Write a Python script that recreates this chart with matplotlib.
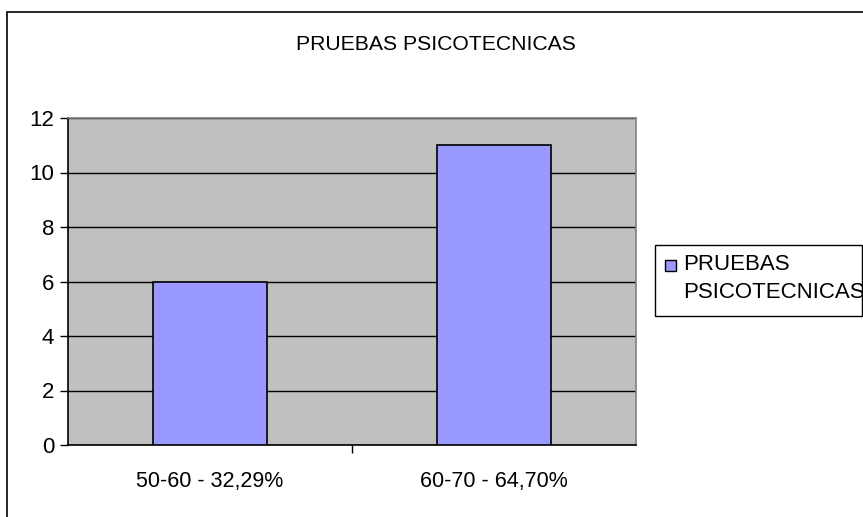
import numpy as np
import matplotlib.pyplot as plt
from matplotlib.patches import Rectangle

plt.rcParams['font.family'] = ['Liberation Sans', 'DejaVu Sans']

categorias = ['50-60 - 32,29%', '60-70 - 64,70%']
valores = [6, 11]
serie = 'PRUEBAS PSICOTECNICAS'
leyenda = ['PRUEBAS', 'PSICOTECNICAS']
yticks = [0, 2, 4, 6, 8, 10, 12]

W, H = 863, 517
fig = plt.figure(figsize=(W / 100, H / 100), dpi=100)


def px(x, y):
    # pixeles (origen arriba a la izquierda) -> fraccion de figura
    return x / W, 1 - y / H


# marco exterior del grafico
fig.patches.append(Rectangle((7 / W, -0.1), 2.0, (H - 12) / H + 0.1,
                             transform=fig.transFigure, fill=False,
                             edgecolor='black', linewidth=1.2))

ax = fig.add_axes([68 / W, (H - 445) / H, (636 - 68) / W, (445 - 118) / H])
ax.set_facecolor('#C0C0C0')

x = np.arange(len(categorias))
ax.bar(x, valores, width=0.4, color='#9999FF', edgecolor='black',
       linewidth=1.2, zorder=3)

ax.set_xlim(-0.5, len(categorias) - 0.5)
ax.set_ylim(0, 12)
ax.set_yticks(yticks)
ax.yaxis.grid(True, color='black', linewidth=1.0, zorder=1)
ax.set_axisbelow(True)

ax.set_xticks(x)
ax.set_xticklabels(categorias, fontsize=15.5)
ax.tick_params(axis='x', length=0, pad=19)
ax.set_xticks([0.5], minor=True)
ax.tick_params(axis='x', which='minor', length=6, width=1, direction='out')
ax.tick_params(axis='y', length=6, width=1, direction='out', labelsize=16, pad=4)

for s in ['left', 'bottom']:
    ax.spines[s].set_color('black')
    ax.spines[s].set_linewidth(1.2)
for s in ['top', 'right']:
    ax.spines[s].set_color('#808080')
    ax.spines[s].set_linewidth(1.2)

fig.text(436 / W, 1 - 44 / H, serie, ha='center', va='center', fontsize=15.2)

# leyenda: caja, cuadrito de la serie y texto en dos lineas
x0, y0 = px(655, 316)
x1, y1 = px(862, 245)
fig.patches.append(Rectangle((x0, y0), x1 - x0, y1 - y0, transform=fig.transFigure,
                             facecolor='white', edgecolor='black', linewidth=1.0))
mx, my = px(665, 271)
fig.patches.append(Rectangle((mx, my), 11 / W, 11 / H, transform=fig.transFigure,
                             facecolor='#9999FF', edgecolor='black', linewidth=1.0))
for i, linea in enumerate(leyenda):
    tx, ty = px(683, 270 + 28.5 * i)
    fig.text(tx, ty, linea, ha='left', va='baseline', fontsize=16)

fig.savefig('out.png', dpi=100)
